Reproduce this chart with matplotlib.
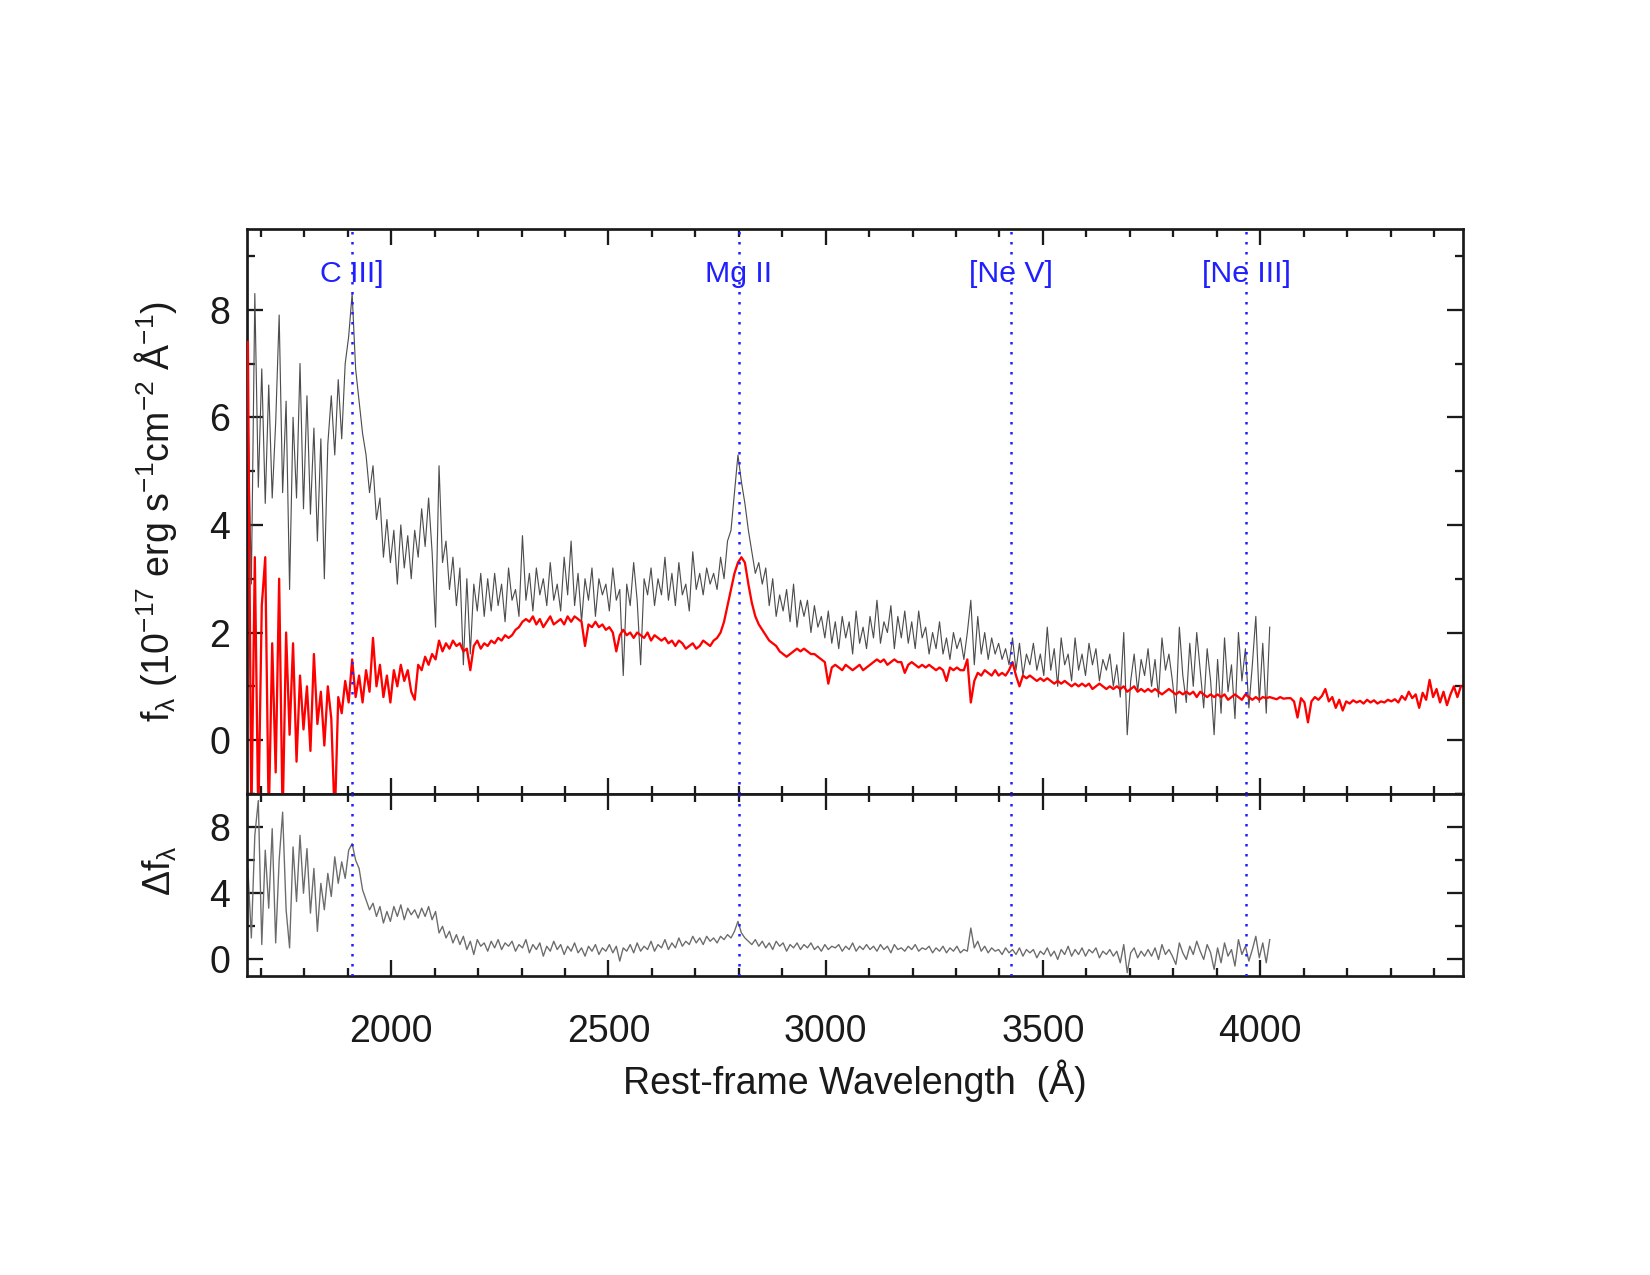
import matplotlib
matplotlib.use("Agg")
import matplotlib.pyplot as plt
import matplotlib.transforms as mtransforms
from matplotlib.ticker import MultipleLocator
import numpy as np

plt.rcParams['font.family'] = ['Liberation Sans', 'DejaVu Sans']
plt.rcParams['mathtext.default'] = 'regular'

# spectra sampled every 8 A starting at 1670 A
W0 = 1670
DW = 8

# observed spectrum (black), 1670 - 4022 A
flux_obs = [
    6.2, 2.9, 8.3, 4.7, 6.9, 4.4, 6.6, 4.5, 5.9, 7.9,   # 1670
    4.6, 6.3, 2.8, 6.0, 4.5, 7.0, 4.3, 6.4, 4.2, 5.8,   # 1750
    3.7, 5.6, 3.0, 5.5, 6.4, 5.3, 6.7, 5.6, 7.0, 7.5,   # 1830
    8.3, 6.9, 6.3, 5.7, 5.3, 4.6, 5.1, 4.1, 4.5, 3.4,   # 1910
    4.1, 3.3, 3.9, 2.9, 4.0, 3.2, 3.8, 3.0, 3.9, 3.4,   # 1990
    4.3, 3.6, 4.5, 3.5, 2.1, 5.1, 3.3, 3.7, 2.8, 3.4,   # 2070
    2.5, 3.2, 1.4, 3.0, 1.6, 2.9, 2.4, 3.1, 2.3, 3.0,   # 2150
    2.4, 3.1, 2.5, 2.9, 2.2, 3.2, 2.6, 2.8, 2.3, 3.8,   # 2230
    2.6, 3.1, 2.4, 3.2, 2.7, 3.0, 2.5, 3.3, 2.6, 2.9,   # 2310
    2.4, 3.4, 2.7, 3.7, 2.5, 3.1, 2.2, 3.0, 2.6, 3.2,   # 2390
    2.3, 3.0, 2.7, 2.9, 2.4, 3.2, 2.6, 2.8, 1.2, 2.9,   # 2470
    2.5, 3.3, 2.6, 1.4, 3.0, 2.7, 3.2, 2.5, 3.0, 2.7,   # 2550
    3.4, 2.6, 3.1, 2.5, 3.3, 2.7, 2.9, 2.4, 3.5, 2.8,   # 2630
    3.1, 2.7, 3.2, 2.9, 3.1, 2.8, 3.4, 3.0, 3.7, 3.9,   # 2710
    4.6, 5.3, 4.8, 4.4, 3.9, 3.5, 3.1, 3.3, 2.9, 3.2,   # 2790
    2.5, 3.0, 2.3, 2.7, 2.4, 2.8, 2.2, 2.9, 2.1, 2.6,   # 2870
    2.3, 2.6, 2.0, 2.5, 2.1, 2.3, 1.9, 2.4, 1.8, 2.2,   # 2950
    1.7, 2.3, 1.9, 2.2, 1.6, 2.4, 1.8, 2.1, 1.7, 2.3,   # 3030
    1.9, 2.6, 1.8, 2.2, 2.0, 2.5, 1.7, 2.3, 1.9, 2.4,   # 3110
    1.8, 2.2, 1.7, 2.4, 1.9, 2.1, 1.6, 2.0, 1.7, 2.2,   # 3190
    1.6, 1.9, 1.5, 2.0, 1.7, 1.9, 1.5, 2.0, 2.6, 1.4,   # 3270
    2.3, 1.6, 2.0, 1.5, 1.9, 1.6, 1.8, 1.5, 1.7, 1.4,   # 3350
    1.9, 1.3, 1.8, 1.2, 1.6, 1.4, 1.8, 1.3, 1.6, 1.2,   # 3430
    2.1, 1.3, 1.7, 1.0, 1.9, 1.4, 1.6, 1.1, 1.9, 1.3,   # 3510
    1.6, 1.2, 1.8, 1.4, 1.7, 1.1, 1.5, 1.3, 1.6, 1.0,   # 3590
    1.4, 0.8, 2.0, 0.1, 1.1, 1.6, 0.9, 1.5, 1.2, 1.7,   # 3670
    1.0, 1.5, 0.8, 1.9, 1.3, 1.6, 1.1, 0.5, 2.1, 1.2,   # 3750
    0.7, 1.8, 1.0, 2.0, 1.3, 0.6, 1.7, 1.1, 0.1, 1.5,   # 3830
    0.5, 1.9, 0.9, 1.4, 0.4, 2.0, 1.1, 1.7, 0.6, 1.4,   # 3910
    2.3, 0.7, 1.8, 0.5, 2.1,                            # 3990
]

# model / comparison spectrum (red), 1670 - 4462 A
flux_red = [
    7.4, -1.5, 3.4, -1.5, 2.5, 3.4, -1.5, 1.8, -0.6, 3.0,          # 1670
    -1.5, 2.0, 0.1, 1.8, -0.4, 1.2, 0.2, 1.0, -0.2, 1.6,           # 1750
    0.3, 0.9, -0.1, 1.0, 0.4, -1.5, 0.8, 0.5, 1.1, 0.7,            # 1830
    1.5, 0.8, 1.2, 0.7, 1.3, 0.9, 1.9, 1.0, 1.4, 0.8,              # 1910
    1.2, 0.7, 1.3, 1.0, 1.4, 1.1, 1.3, 0.9, 0.75, 1.4,             # 1990
    1.3, 1.55, 1.4, 1.6, 1.5, 1.85, 1.65, 1.8, 1.7, 1.85,          # 2070
    1.75, 1.8, 1.65, 1.7, 1.3, 1.75, 1.85, 1.7, 1.8, 1.75,         # 2150
    1.85, 1.8, 1.9, 1.85, 1.95, 1.9, 1.95, 2.05, 2.1, 2.2,         # 2230
    2.25, 2.2, 2.3, 2.15, 2.25, 2.1, 2.2, 2.3, 2.15, 2.2,          # 2310
    2.25, 2.15, 2.3, 2.2, 2.3, 2.25, 2.2, 1.75, 2.15, 2.1,         # 2390
    2.2, 2.1, 2.15, 2.05, 2.1, 2.0, 1.65, 1.95, 2.05, 1.95,        # 2470
    2.0, 1.9, 2.0, 1.95, 1.9, 2.0, 1.85, 1.95, 1.9, 1.85,          # 2550
    1.9, 1.8, 1.85, 1.75, 1.85, 1.8, 1.7, 1.75, 1.8, 1.7,          # 2630
    1.75, 1.85, 1.8, 1.75, 1.85, 1.9, 2.0, 2.2, 2.5, 2.8,          # 2710
    3.1, 3.3, 3.4, 3.3, 2.9, 2.55, 2.3, 2.15, 2.05, 1.95,          # 2790
    1.85, 1.8, 1.75, 1.65, 1.6, 1.55, 1.6, 1.65, 1.7, 1.65,        # 2870
    1.7, 1.65, 1.6, 1.6, 1.55, 1.5, 1.45, 1.05, 1.35, 1.4,         # 2950
    1.35, 1.3, 1.4, 1.35, 1.3, 1.35, 1.4, 1.3, 1.35, 1.4,          # 3030
    1.45, 1.5, 1.45, 1.5, 1.4, 1.45, 1.5, 1.45, 1.45, 1.25,        # 3110
    1.4, 1.45, 1.4, 1.35, 1.4, 1.35, 1.4, 1.35, 1.3, 1.35,         # 3190
    1.3, 1.1, 1.35, 1.3, 1.35, 1.3, 1.3, 1.5, 0.7, 1.1,            # 3270
    1.25, 1.2, 1.3, 1.25, 1.2, 1.3, 1.2, 1.25, 1.2, 1.3,           # 3350
    1.45, 1.2, 1.0, 1.2, 1.15, 1.2, 1.15, 1.1, 1.15, 1.1,          # 3430
    1.15, 1.1, 1.05, 1.1, 1.05, 1.1, 1.05, 1.0, 1.05, 1.0,         # 3510
    1.05, 1.0, 1.05, 0.95, 1.0, 1.05, 1.0, 0.95, 1.0, 0.95,        # 3590
    1.0, 0.95, 1.0, 0.9, 0.95, 1.0, 0.9, 0.95, 0.9, 0.95,          # 3670
    0.9, 0.95, 0.9, 0.85, 0.9, 0.95, 0.9, 0.85, 0.9, 0.85,         # 3750
    0.9, 0.85, 0.9, 0.8, 0.9, 0.85, 0.8, 0.85, 0.8, 0.85,          # 3830
    0.8, 0.85, 0.75, 0.8, 0.85, 0.8, 0.75, 0.85, 0.8, 0.75,        # 3910
    0.8, 0.75, 0.8, 0.78, 0.8, 0.78, 0.76, 0.8, 0.77, 0.78,        # 3990
    0.78, 0.72, 0.42, 0.78, 0.7, 0.33, 0.72, 0.8, 0.75, 0.82,      # 4070
    0.95, 0.72, 0.8, 0.6, 0.75, 0.55, 0.72, 0.68, 0.74, 0.7,       # 4150
    0.73, 0.68, 0.75, 0.7, 0.74, 0.68, 0.72, 0.7, 0.75, 0.72,      # 4230
    0.76, 0.7, 0.82, 0.75, 0.9, 0.78, 0.85, 0.6, 0.88, 0.75,       # 4310
    1.12, 0.8, 0.95, 0.7, 0.9, 0.65, 0.85, 1.0, 0.8, 1.0,          # 4390
]

# difference spectrum (lower panel), 1670 - 4022 A
flux_diff = [
    5.5, 1.3, 7.5, 9.6, 0.9, 6.6, 3.1, 7.9, 1.0, 6.0,   # 1670
    8.9, 3.0, 0.7, 6.8, 3.5, 7.5, 4.0, 6.7, 2.8, 5.5,   # 1750
    1.7, 4.6, 3.0, 5.2, 3.8, 6.2, 4.6, 5.9, 4.9, 6.6,   # 1830
    7.0, 6.0, 5.5, 4.2, 3.6, 3.0, 3.4, 2.6, 3.2, 2.2,   # 1910
    2.9, 2.3, 3.2, 2.6, 3.3, 2.4, 3.1, 2.7, 3.0, 2.5,   # 1990
    3.1, 2.6, 3.2, 2.4, 2.9, 1.6, 2.0, 1.3, 1.7, 1.0,   # 2070
    1.5, 0.9, 1.4, 0.6, 1.1, 0.3, 1.2, 0.8, 1.0, 0.5,   # 2150
    1.1, 0.7, 1.2, 0.6, 1.0, 0.8, 1.1, 0.5, 0.9, 0.7,   # 2230
    1.2, 0.4, 0.9, 0.6, 1.0, 0.2, 0.8, 0.5, 1.1, 0.6,   # 2310
    0.9, 0.3, 0.8, 0.5, 1.0, 0.4, 0.7, 0.2, 0.8, 0.5,   # 2390
    0.9, 0.3, 0.7, 0.5, 0.9, 0.4, 0.8, -0.1, 0.7, 0.5,  # 2470
    0.9, 0.4, 1.0, 0.5, 0.8, 0.6, 1.1, 0.5, 0.9, 0.7,   # 2550
    1.2, 0.6, 1.0, 0.7, 1.3, 0.8, 1.1, 0.9, 1.4, 1.0,   # 2630
    1.3, 0.9, 1.4, 1.1, 1.3, 1.0, 1.4, 1.2, 1.5, 1.3,   # 2710
    1.7, 2.3, 1.6, 1.3, 1.1, 0.9, 1.2, 0.8, 1.1, 0.7,   # 2790
    1.0, 0.6, 1.1, 0.8, 1.0, 0.5, 0.9, 0.7, 1.0, 0.6,   # 2870
    0.9, 0.7, 1.0, 0.6, 0.8, 0.5, 0.9, 0.6, 0.8, 0.7,   # 2950
    0.9, 0.5, 0.8, 0.6, 1.0, 0.5, 0.8, 0.6, 0.9, 0.6,   # 3030
    0.8, 0.5, 0.9, 0.6, 0.8, 0.4, 0.9, 0.6, 0.7, 0.5,   # 3110
    0.8, 0.6, 0.9, 0.5, 0.7, 0.6, 0.8, 0.4, 0.7, 0.5,   # 3190
    0.8, 0.4, 0.7, 0.5, 0.8, 0.4, 0.6, 0.5, 1.9, 0.7,   # 3270
    1.1, 0.5, 0.8, 0.4, 0.7, 0.5, 0.6, 0.3, 0.7, 0.4,   # 3350
    0.6, 0.3, 0.7, 0.2, 0.6, 0.4, 0.6, 0.1, 0.5, 0.3,   # 3430
    0.7, 0.2, 0.5, 0.0, 0.6, 0.3, 0.8, 0.2, 0.6, 0.3,   # 3510
    0.7, 0.2, 0.6, 0.4, 0.7, 0.1, 0.5, 0.3, 0.6, 0.2,   # 3590
    0.5, -0.2, 0.9, -0.8, 0.4, 0.7, 0.1, 0.5, 0.2, 0.6,  # 3670
    0.2, 0.7, 0.0, 0.9, 0.3, 0.6, 0.2, -0.3, 1.0, 0.4,  # 3750
    0.0, 0.8, 0.3, 1.1, 0.5, 0.0, 0.9, 0.4, -0.6, 0.7,  # 3830
    -0.2, 1.0, 0.2, 0.6, -0.4, 1.2, 0.3, 0.8, -0.1, 0.6,  # 3910
    1.4, 0.1, 1.0, -0.2, 1.2,                           # 3990
]

line_names = ['C III]', 'Mg II', '[Ne V]', '[Ne III]']
line_waves = [1909, 2800, 3426, 3968]

wave_obs = W0 + DW * np.arange(len(flux_obs))
wave_red = W0 + DW * np.arange(len(flux_red))
wave_diff = W0 + DW * np.arange(len(flux_diff))

fig = plt.figure(figsize=(11, 8.5), dpi=150)
ax1 = fig.add_axes([0.1497, 0.3773, 0.7370, 0.4431])
ax2 = fig.add_axes([0.1497, 0.2345, 0.7370, 0.1428], sharex=ax1)

txt = '#1a1a1a'

ax1.plot(wave_obs, flux_obs, color='0.3', lw=0.55, zorder=2)
ax1.plot(wave_red, flux_red, color='red', lw=1.1, zorder=3)
ax2.plot(wave_diff, flux_diff, color='0.42', lw=0.65, zorder=2)

for ax in (ax1, ax2):
    for w in line_waves:
        ax.axvline(w, color='#2020ff', ls=(0, (1, 3)), lw=1.2, zorder=4)

trans = mtransforms.blended_transform_factory(ax1.transData, ax1.transAxes)
for name, w in zip(line_names, line_waves):
    ax1.text(w, 0.921, name, transform=trans, ha='center', va='center',
             color='#2020ff', fontsize=14.5, zorder=5)

ax1.set_xlim(1668, 4467)
ax1.set_ylim(-1.0, 9.5)
ax2.set_ylim(-1.0, 10.0)

ax1.xaxis.set_major_locator(MultipleLocator(500))
ax1.xaxis.set_minor_locator(MultipleLocator(100))
ax1.yaxis.set_major_locator(MultipleLocator(2))
ax1.yaxis.set_minor_locator(MultipleLocator(1))
ax2.yaxis.set_major_locator(MultipleLocator(4))
ax2.yaxis.set_minor_locator(MultipleLocator(2))

for ax in (ax1, ax2):
    ax.tick_params(which='both', direction='in', top=True, right=True,
                   colors=txt, labelsize=18, width=1.1, pad=8)
    ax.tick_params(which='major', length=7.5)
    ax.tick_params(which='minor', length=3.8)
    for sp in ax.spines.values():
        sp.set_linewidth(1.3)
        sp.set_color(txt)

ax2.tick_params(axis='x', pad=18)
ax1.tick_params(labelbottom=False)
ax1.set_yticks([0, 2, 4, 6, 8])
ax2.set_yticks([0, 4, 8])

ax1.set_ylabel(r'f$_\lambda$ (10$^{-17}$ erg s$^{-1}$cm$^{-2}$ Å$^{-1}$)',
               fontsize=18, color=txt)
ax2.set_ylabel(r'$\Delta$f$_\lambda$', fontsize=18, color=txt)
ax1.yaxis.set_label_coords(-0.056, 0.5)
ax2.yaxis.set_label_coords(-0.056, 0.58)
ax2.set_xlabel('Rest-frame Wavelength  (Å)', fontsize=18, color=txt, labelpad=5)

fig.savefig('out.png', dpi=150)
